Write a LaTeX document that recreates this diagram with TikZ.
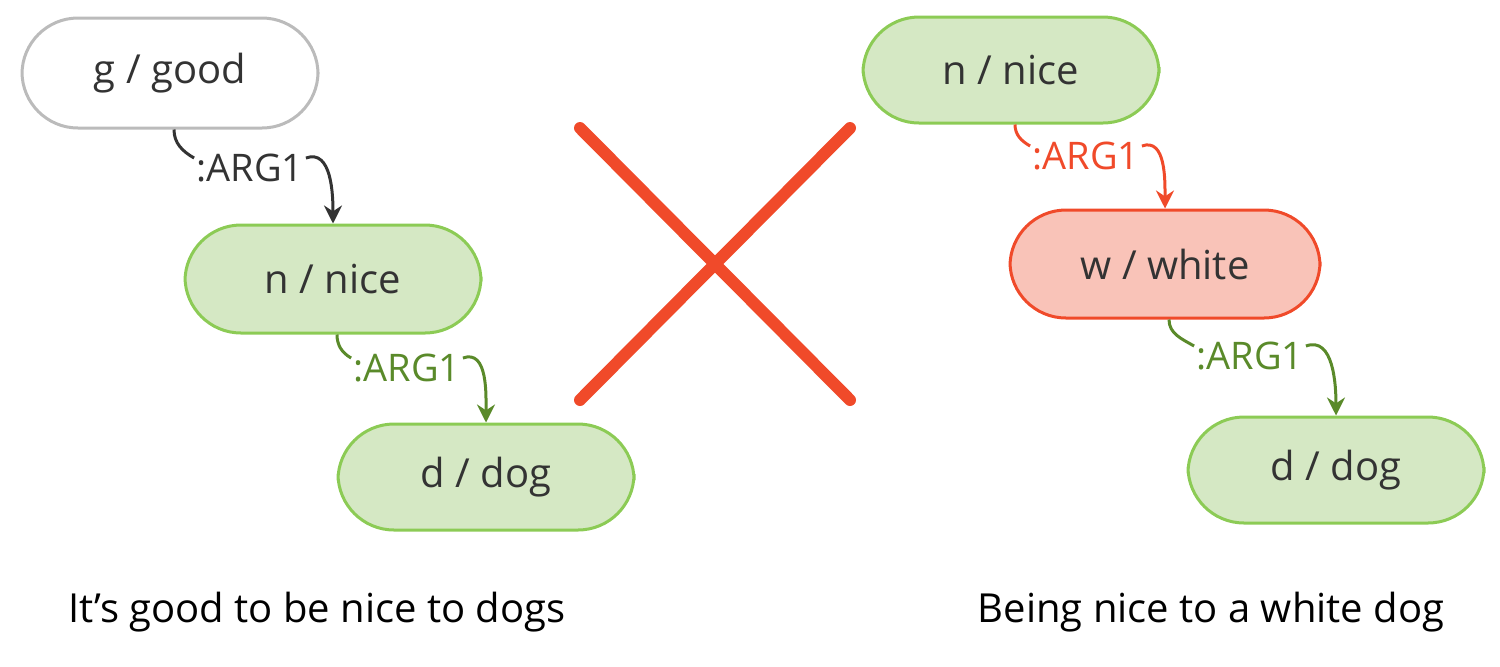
\documentclass[tikz,border=0pt]{standalone}
\usepackage{fontspec}
\setmainfont{Open Sans}
\usetikzlibrary{arrows.meta}
\definecolor{txt}{HTML}{333333}
\definecolor{grfill}{HTML}{D5E8C4}
\definecolor{grline}{HTML}{8CCB55}
\definecolor{grarrow}{HTML}{5A8A2A}
\definecolor{rdfill}{HTML}{F9C3B8}
\definecolor{rdline}{HTML}{F04A2A}
\definecolor{gyline}{HTML}{BBBBBB}
\tikzset{
  concept/.style={rectangle, rounded corners=28pt, minimum width=148pt, minimum height=55pt,
    line width=1.5pt, text=txt, font=\fontsize{20}{24}\selectfont},
  plain/.style={concept, draw=gyline, fill=white},
  good/.style={concept, draw=grline, fill=grfill},
  bad/.style={concept, draw=rdline, fill=rdfill},
  role/.style={font=\fontsize{19}{23}\selectfont, inner sep=1pt},
  link/.style={line width=1.5pt, -{Stealth[length=9pt,width=9pt]}},
}
\begin{document}
\begin{tikzpicture}[x=0.5pt,y=-0.5pt]
    \useasboundingbox (0,0) rectangle (1500,666);
    % left graph
    \node[plain] (g) at (170,73) {g / good};
    \node[good, minimum height=54pt] (n) at (333,279) {n / nice};
    \node[good, minimum height=53pt] (d) at (486,477) {d / dog};
    \node[role, text=txt] (l1) at (250,168) {:ARG1};
    \node[role, text=grarrow] (l2) at (407,368) {:ARG1};
    \draw[line width=1.5pt, txt] ([xshift=2pt]g.south) to[out=-90,in=150] ([yshift=5pt]l1.west);
    \draw[link, txt] ([yshift=5pt]l1.east) to[out=20,in=90] (n.north);
    \draw[line width=1.5pt, grarrow] ([xshift=2pt]n.south) to[out=-90,in=150] ([yshift=5pt]l2.west);
    \draw[link, grarrow] ([yshift=5pt]l2.east) to[out=20,in=90] (d.north);
    % cross
    \draw[line width=6pt, rdline, line cap=round] (580,128) -- (850,400);
    \draw[line width=6pt, rdline, line cap=round] (850,128) -- (580,400);
    % right graph
    \node[good, minimum height=53pt] (rn) at (1011,70) {n / nice};
    \node[bad, minimum width=155pt, minimum height=54pt] (rw) at (1165,264) {w / white};
    \node[good, minimum height=53pt] (rd) at (1336,470) {d / dog};
    \node[role, text=rdline] (r1) at (1086,156) {:ARG1};
    \node[role, text=grarrow] (r2) at (1250,356) {:ARG1};
    \draw[line width=1.5pt, rdline] ([xshift=2pt]rn.south) to[out=-90,in=150] ([yshift=5pt]r1.west);
    \draw[link, rdline] ([yshift=5pt]r1.east) to[out=20,in=90] (rw.north);
    \draw[line width=1.5pt, grarrow] ([xshift=2pt]rw.south) to[out=-90,in=150] ([yshift=5pt]r2.west);
    \draw[link, grarrow] ([yshift=5pt]r2.east) to[out=20,in=90] (rd.north);
    % captions
    \node[font=\fontsize{20}{24}\selectfont, text=black] (c1) at (317,612) {It's good to be nice to dogs};
    \node[font=\fontsize{20}{24}\selectfont, text=black] (c2) at (1211,612) {Being nice to a white dog};
\end{tikzpicture}
\end{document}
